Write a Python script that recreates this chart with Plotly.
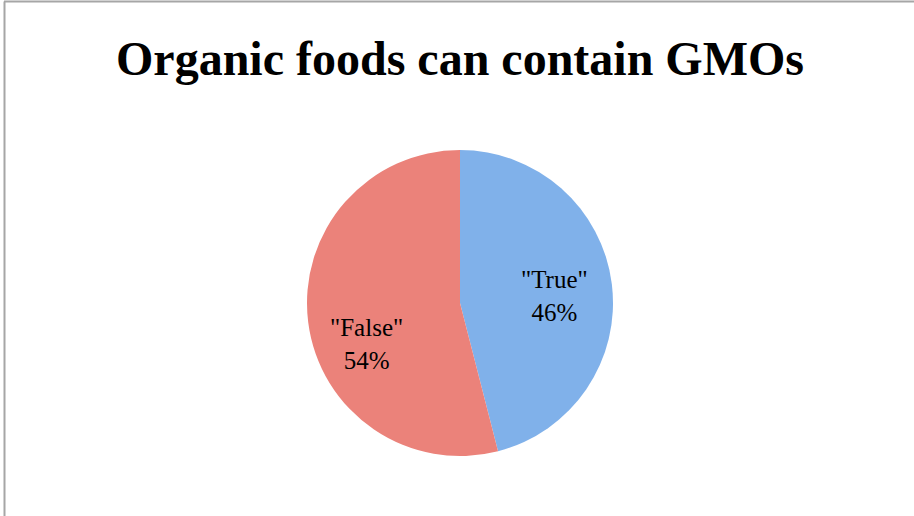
import plotly.graph_objects as go

labels = ['"True"', '"False"']
values = [46, 54]
colors = ["#80b1ea", "#eb827a"]

W, H = 914, 516

fig = go.Figure(
    go.Pie(
        labels=labels,
        values=values,
        sort=False,
        direction="clockwise",
        rotation=0,
        marker=dict(colors=colors, line=dict(width=0)),
        textinfo="none",
        showlegend=False,
        hoverinfo="skip",
        domain=dict(x=[307 / W, 613 / W], y=[1 - 456 / H, 1 - 150 / H]),
    )
)

label_pos = [(554 / W, 1 - 296 / H), (366 / W, 1 - 344 / H)]
total = sum(values)
for lab, val, (ax, ay) in zip(labels, values, label_pos):
    fig.add_annotation(
        text=f"{lab}<br>{round(100 * val / total)}%",
        x=ax, y=ay, xref="paper", yref="paper",
        xanchor="center", yanchor="middle", showarrow=False,
        font=dict(family="Liberation Serif, Times New Roman, serif", size=25, color="black"),
    )

fig.update_layout(
    width=W,
    height=H,
    margin=dict(l=0, r=0, t=0, b=0),
    paper_bgcolor="white",
    plot_bgcolor="white",
    title=dict(
        text="<b>Organic foods can contain GMOs</b>",
        font=dict(family="Liberation Serif, Times New Roman, serif", size=48, color="black"),
        x=460 / W,
        xanchor="center",
        y=1 - 58 / H,
        yanchor="middle",
        yref="container",
        xref="container",
    ),
    shapes=[
        dict(type="line", xref="paper", yref="paper", x0=4 / W, x1=1.0, y0=1 - 1.5 / H, y1=1 - 1.5 / H,
             line=dict(color="#a6a6a6", width=2)),
        dict(type="line", xref="paper", yref="paper", x0=4.5 / W, x1=4.5 / W, y0=0, y1=1 - 1.5 / H,
             line=dict(color="#a6a6a6", width=2)),
    ],
)

fig.write_html(
    "out.html",
    config={"displayModeBar": False},
    post_script="document.body.style.margin='0';document.body.style.padding='0';document.body.style.overflow='hidden';",
)
